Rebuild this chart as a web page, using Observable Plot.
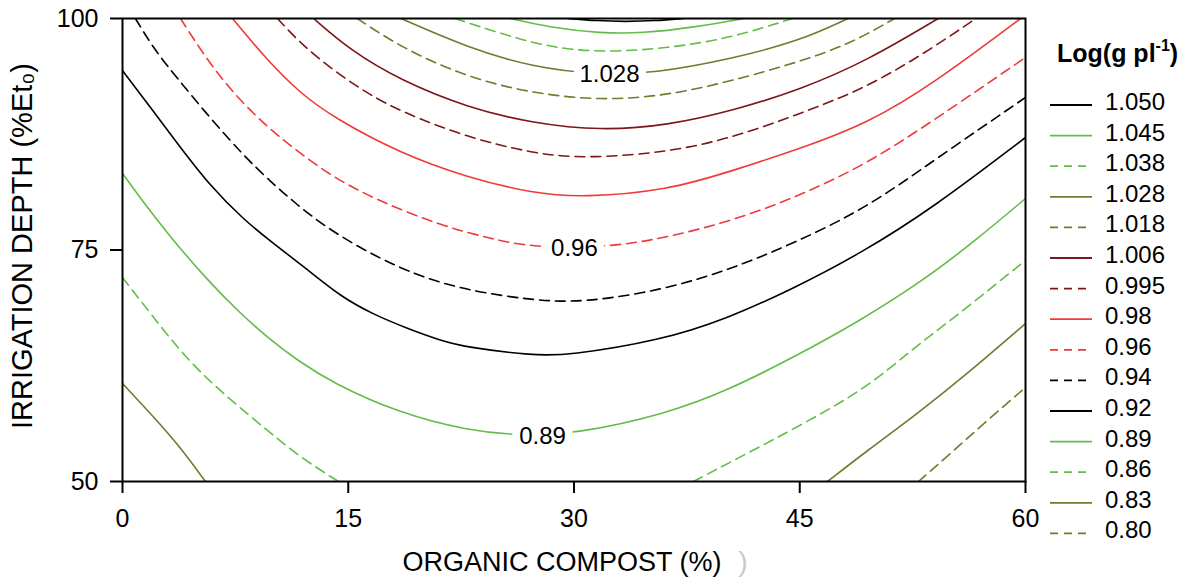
<!DOCTYPE html>
<html><head><meta charset="utf-8">
<script src="https://cdn.jsdelivr.net/npm/d3@7"></script>
<script src="https://cdn.jsdelivr.net/npm/@observablehq/plot@0.6"></script>
<style>
html,body{margin:0;padding:0;background:#fff;}
#chart{width:1195px;height:581px;}
</style></head><body><div id="chart"></div>
<script>
// Contour levels (legend order) and tick labels
const levels = ["1.050","1.045","1.038","1.028","1.018","1.006","0.995","0.98","0.96","0.94","0.92","0.89","0.86","0.83","0.80"];
const xTicks = [0, 15, 30, 45, 60];
const yTicks = [50, 75, 100];

// Contour lines: [organic compost %, irrigation depth %]
const c_1050 = [[29.6,100],[31.5,99.75],[33.4,99.66],[35.4,99.75],[37.3,100]];
const c_1045 = [[25.8,100],[28.4,99.03],[31.8,98.4],[34.5,98.4],[38.0,99.05],[41.3,100]];
const c_1038 = [[22.1,100],[25.1,98.38],[28.4,96.87],[31.8,96.33],[36.2,96.76],[40.6,97.95],[44.5,100]];
const c_1028 = [[18.5,100],[22.9,96.87],[27.3,94.71],[31.5,93.95],[35.3,94.06],[40.6,95.68],[45.05,97.62],[48.2,100]];
const c_1018 = [[15.6,100],[18.5,96.87],[22.9,93.63],[27.3,91.9],[31.8,91.14],[36.2,91.68],[40.6,93.3],[45.05,95.36],[48.4,97.3],[51.3,100]];
const c_1006 = [[12.7,100],[15.15,96.54],[18.5,93.3],[22.9,90.39],[27.3,88.66],[31.8,87.9],[36.2,88.44],[40.6,90.06],[45.05,92.33],[49.5,95.46],[54.2,100]];
const c_0995 = [[10.3,100],[11.83,97.3],[14.02,94.38],[16.28,91.9],[18.47,89.96],[22.92,87.15],[27.31,85.42],[30.63,84.88],[36.21,85.53],[40.6,87.15],[45.05,89.74],[49.5,92.55],[53.89,96.87],[56.7,100]];
const c_098 = [[7.31,100],[9.63,95.46],[11.83,91.9],[14.02,89.31],[18.47,85.42],[22.92,82.83],[27.31,81.1],[30.63,80.67],[36.21,81.43],[40.6,83.59],[45.05,85.96],[49.5,88.66],[53.89,92.98],[59.67,100]];
const c_096 = [[3.85,100],[5.65,95.46],[7.38,91.9],[9.63,88.23],[11.83,85.42],[14.02,82.83],[16.94,80.35],[21.13,77.65],[24.5,76.2],[27.31,75.27],[32.23,75.27],[36.21,76.35],[40.6,78.19],[45.05,80.89],[49.5,84.34],[53.89,88.98],[60,95.79]];
const c_094 = [[0.86,100],[2.06,96.76],[3.65,93.52],[5.85,89.2],[8.04,85.21],[9.83,82.4],[11.5,80.02],[13.36,77.65],[15.61,75.38],[17.81,73.54],[20.0,72.03],[22.92,70.63],[27.31,69.55],[30.63,69.33],[35.75,70.63],[40.2,72.79],[44.58,75.7],[49.5,79.59],[53.89,84.67],[60,91.47]];
const c_092 = [[0,94.38],[1.86,90.39],[3.65,86.5],[5.85,81.86],[8.04,78.29],[10.03,75.7],[12.29,72.89],[14.49,69.98],[16.68,68.03],[18.94,66.52],[21.13,65.23],[22.92,64.47],[27.31,63.61],[29.57,63.61],[35.75,65.23],[40.2,67.6],[44.58,70.84],[49.04,74.62],[53.89,79.59],[60,87.15]];
const c_089 = [[0,83.26],[1.4,80.13],[2.99,76.78],[5.65,71.71],[7.84,68.14],[9.63,65.55],[11.63,63.07],[14.02,60.58],[18.47,57.34],[22.92,55.51],[26.25,54.97],[29.97,55.08],[36.21,57.34],[40.2,59.83],[44.58,63.39],[49.04,67.39],[53.22,71.71],[56.68,76.03],[60,80.56]];
const c_086a = [[0,72.03],[1.86,68.14],[4.32,63.07],[6.98,59.07],[9.63,55.51],[11.83,52.59],[14.35,50]];
const c_086b = [[37.94,50],[40.6,52.27],[45.05,56.05],[49.5,60.15],[52.36,64.15],[55.02,67.39],[58.34,71.71],[60,73.87]];
const c_083a = [[0,60.58],[1.86,57.34],[3.65,54.1],[5.51,50]];
const c_083b = [[46.84,50],[49.5,53.35],[52.82,57.34],[56.15,61.66],[60,67.06]];
const c_080 = [[52.89,50],[55.02,53.02],[57.21,56.26],[60,60.15]];

// In-plot contour labels
const labelText = ["1.028", "0.96", "0.89"];
const labelX = [32.36, 30.03, 27.91];
const labelY = [93.95, 75.16, 54.86];

// Styles per level (legend order)
const GREEN = "#62bd47", OLIVE = "#77772d", DARKRED = "#7d1616", RED = "#f03a3a", BLACK = "#000000";
const levelColor = [BLACK, GREEN, GREEN, OLIVE, OLIVE, DARKRED, DARKRED, RED, RED, BLACK, BLACK, GREEN, GREEN, OLIVE, OLIVE];
const levelDashed = [false, false, true, false, true, false, true, false, true, true, false, false, true, false, true];

const contours = [
  ["1.050", c_1050], ["1.045", c_1045], ["1.038", c_1038], ["1.028", c_1028], ["1.018", c_1018],
  ["1.006", c_1006], ["0.995", c_0995], ["0.98", c_098], ["0.96", c_096], ["0.94", c_094],
  ["0.92", c_092], ["0.89", c_089], ["0.86", c_086a], ["0.86", c_086b], ["0.83", c_083a],
  ["0.83", c_083b], ["0.80", c_080]
];

const FONT = "'Liberation Sans', Arial, Helvetica, sans-serif";
const DASH = "10,6";

const lineMarks = contours.map(([lvl, pts]) => {
  const i = levels.indexOf(lvl);
  return Plot.line(pts, {
    x: d => d[0], y: d => d[1],
    stroke: levelColor[i], strokeWidth: 1.6,
    strokeDasharray: levelDashed[i] ? DASH : null,
    curve: "basis", clip: true
  });
});

const plot = Plot.plot({
  width: 1195, height: 581,
  marginLeft: 122, marginRight: 170, marginTop: 18, marginBottom: 100,
  style: {fontFamily: FONT, fontSize: "24px", background: "white", color: "black"},
  x: {domain: [0, 60]},
  y: {domain: [50, 100]},
  marks: [
    ...lineMarks,
    Plot.text(labelText, {x: (d, i) => labelX[i], y: (d, i) => labelY[i], text: d => d,
      fontSize: 24, fill: "black", stroke: "white", strokeWidth: 16}),
    Plot.frame({stroke: "black", strokeWidth: 2}),
    Plot.axisX({ticks: xTicks, tickSize: 12, tickPadding: 16, fontSize: 25, label: null, strokeWidth: 2}),
    Plot.axisY({ticks: yTicks, tickSize: 12, tickPadding: 12, fontSize: 25, label: null, strokeWidth: 2}),
    Plot.text(["ORGANIC COMPOST (%)"], {frameAnchor: "bottom-left", dx: 280, dy: 89, textAnchor: "start", fontSize: 27, fill: "black"}),
    Plot.text([")"], {frameAnchor: "bottom-left", dx: 616, dy: 89, fontSize: 27, fill: "#c8c8c8"}),
    Plot.text(["IRRIGATION DEPTH (%Et\u2080)"], {frameAnchor: "left", textAnchor: "middle", rotate: -90, dx: -100, dy: -4, fontSize: 29, fill: "black"})
  ]
});
document.getElementById("chart").appendChild(plot);

// Legend on the right
const svg = d3.select(plot);
const lg = svg.append("g").attr("font-family", FONT).attr("fill", "black").attr("text-anchor", "start");
const title = lg.append("text").attr("x", 1057).attr("y", 62).attr("font-size", 25).attr("font-weight", "bold");
title.append("tspan").text("Log(g pl");
title.append("tspan").attr("dy", -11).attr("font-size", 16).text("-1");
title.append("tspan").attr("dy", 11).text(")");
levels.forEach((lvl, i) => {
  const y = 105 + i * 30.6;
  lg.append("line").attr("x1", 1050).attr("x2", 1092).attr("y1", y).attr("y2", y)
    .attr("stroke", levelColor[i]).attr("stroke-width", 1.8)
    .attr("stroke-dasharray", levelDashed[i] ? "8,6" : null);
  lg.append("text").attr("x", 1105).attr("y", y + 5).attr("font-size", 24).text(lvl);
});
</script>
</body></html>
